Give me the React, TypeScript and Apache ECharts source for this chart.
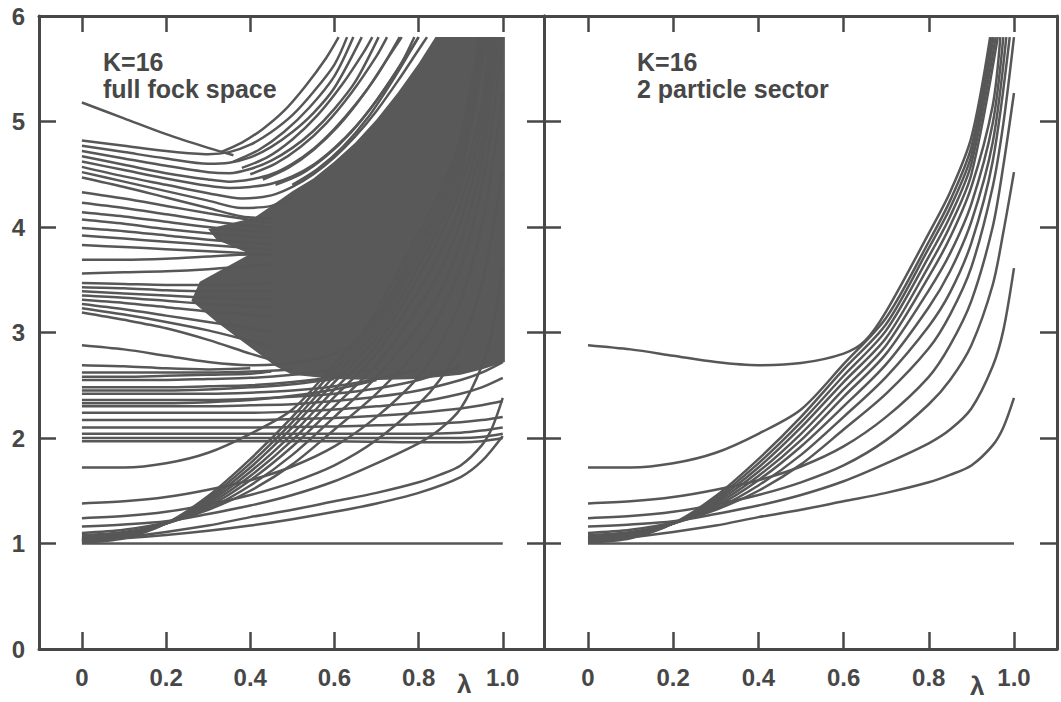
import React, { useEffect, useRef } from "react";
import * as echarts from "echarts";

type P = [number, number];

const xTickValues = [0, 0.2, 0.4, 0.6, 0.8, 1.0];
const LINE = "#575757";
const AXIS = "#474747";
const TEXT = "#474747";
const FONT = '"Liberation Sans", Arial, sans-serif';

// ---- 2 particle sector (right panel; also part of the full Fock space) ----
const s2Flat: P[] = [[0, 1], [1, 1]];
const s2R01: P[] = [[0,1.03],[0.1,1.06],[0.2,1.11],[0.3,1.17],[0.4,1.25],[0.5,1.32],[0.6,1.4],[0.7,1.48],[0.8,1.58],[0.85,1.65],[0.9,1.74],[0.95,1.93],[0.975,2.1],[1.0,2.38]];
const s2R02: P[] = [[0,1.16],[0.1,1.18],[0.2,1.21],[0.3,1.28],[0.4,1.36],[0.5,1.46],[0.6,1.59],[0.7,1.76],[0.8,1.95],[0.85,2.08],[0.9,2.28],[0.95,2.68],[0.975,3.02],[1.0,3.61]];
const s2R03: P[] = [[0,1.24],[0.1,1.26],[0.2,1.3],[0.3,1.37],[0.4,1.46],[0.5,1.58],[0.6,1.74],[0.7,1.98],[0.8,2.32],[0.85,2.55],[0.9,2.88],[0.95,3.45],[0.975,3.95],[1.0,4.52]];
const s2R04: P[] = [[0,1.38],[0.1,1.4],[0.2,1.44],[0.3,1.51],[0.4,1.6],[0.5,1.73],[0.6,1.92],[0.7,2.2],[0.8,2.58],[0.85,2.88],[0.9,3.3],[0.95,4.0],[0.975,4.58],[1.0,5.27]];
const s2R05: P[] = [[0,1.1],[0.1,1.13],[0.2,1.2],[0.3,1.32],[0.4,1.5],[0.5,1.75],[0.6,2.08],[0.7,2.42],[0.8,2.85],[0.85,3.17],[0.9,3.62],[0.95,4.38],[0.975,4.98],[1.0,5.8]];
const s2R06: P[] = [[0,1.08],[0.1,1.11],[0.2,1.19],[0.3,1.33],[0.4,1.55],[0.5,1.84],[0.6,2.2],[0.7,2.58],[0.8,3.06],[0.85,3.38],[0.9,3.85],[0.95,4.62],[0.99,5.8]];
const s2R07: P[] = [[0,1.06],[0.1,1.1],[0.2,1.19],[0.3,1.35],[0.4,1.6],[0.5,1.92],[0.6,2.3],[0.7,2.7],[0.8,3.24],[0.85,3.58],[0.9,4.05],[0.95,4.8],[0.982,5.8]];
const s2R08: P[] = [[0,1.05],[0.1,1.09],[0.2,1.19],[0.3,1.37],[0.4,1.64],[0.5,1.98],[0.6,2.39],[0.7,2.8],[0.8,3.4],[0.85,3.75],[0.9,4.22],[0.95,4.98],[0.975,5.8]];
const s2R09: P[] = [[0,1.04],[0.1,1.08],[0.2,1.19],[0.3,1.39],[0.4,1.68],[0.5,2.04],[0.6,2.46],[0.7,2.88],[0.8,3.53],[0.85,3.9],[0.9,4.38],[0.95,5.15],[0.968,5.8]];
const s2R10: P[] = [[0,1.03],[0.1,1.07],[0.2,1.19],[0.3,1.41],[0.4,1.72],[0.5,2.1],[0.6,2.53],[0.7,2.95],[0.8,3.63],[0.85,4.01],[0.9,4.5],[0.962,5.8]];
const s2R11: P[] = [[0,1.02],[0.1,1.06],[0.2,1.19],[0.3,1.43],[0.4,1.76],[0.5,2.15],[0.6,2.59],[0.7,3.02],[0.8,3.72],[0.85,4.1],[0.9,4.6],[0.957,5.8]];
const s2R12: P[] = [[0,1.01],[0.1,1.05],[0.2,1.19],[0.3,1.45],[0.4,1.8],[0.5,2.2],[0.6,2.65],[0.7,3.08],[0.8,3.8],[0.85,4.18],[0.9,4.68],[0.952,5.8]];
const s2R13: P[] = [[0,1.72],[0.1,1.72],[0.2,1.76],[0.3,1.86],[0.4,2.04],[0.5,2.27],[0.6,2.7],[0.7,3.14],[0.8,3.86],[0.85,4.25],[0.9,4.76],[0.948,5.8]];
const s2R14: P[] = [[0,2.88],[0.1,2.84],[0.2,2.78],[0.3,2.72],[0.4,2.69],[0.5,2.71],[0.6,2.8],[0.65,2.92],[0.7,3.2],[0.8,3.94],[0.85,4.33],[0.9,4.85],[0.944,5.8]];

const sector2Lines: P[][] = [s2Flat, s2R01, s2R02, s2R03, s2R04, s2R05, s2R06, s2R07, s2R08, s2R09, s2R10, s2R11, s2R12, s2R13, s2R14];

// ---- full Fock space (left panel) extra levels ----
const fockLow: P[] = [[0,1.03],[0.1,1.05],[0.2,1.08],[0.3,1.12],[0.4,1.17],[0.5,1.23],[0.6,1.3],[0.7,1.38],[0.8,1.48],[0.9,1.63],[0.95,1.78],[1.0,2.02]];
const fockDiag: P[] = [[0,5.18],[0.1,5.03],[0.2,4.88],[0.3,4.75],[0.36,4.68]];
const fockE2: P[] = [[0,2.69],[0.1,2.68],[0.2,2.66],[0.3,2.65],[0.4,2.66]];

const fockGroupA: P[][] = [
  [[0,4.82],[0.1,4.77],[0.2,4.72],[0.3,4.69],[0.35,4.71],[0.4,4.78],[0.45,4.9],[0.5,5.06],[0.55,5.28],[0.6,5.54],[0.63,5.8]],
  [[0,4.77],[0.1,4.71],[0.2,4.65],[0.3,4.6],[0.35,4.61],[0.4,4.66],[0.45,4.76],[0.5,4.9],[0.55,5.08],[0.6,5.32],[0.665,5.8]],
  [[0,4.72],[0.1,4.65],[0.2,4.58],[0.3,4.52],[0.35,4.51],[0.4,4.55],[0.45,4.63],[0.5,4.75],[0.55,4.91],[0.6,5.12],[0.65,5.38],[0.705,5.8]],
  [[0,4.67],[0.1,4.59],[0.2,4.51],[0.3,4.45],[0.35,4.43],[0.4,4.45],[0.45,4.5],[0.5,4.6],[0.55,4.74],[0.6,4.93],[0.65,5.16],[0.7,5.43],[0.755,5.8]],
  [[0,4.62],[0.1,4.54],[0.2,4.46],[0.3,4.39],[0.35,4.37],[0.4,4.38],[0.45,4.41],[0.5,4.48],[0.55,4.59],[0.6,4.75],[0.65,4.95],[0.7,5.2],[0.75,5.49],[0.8,5.8]],
  [[0,4.57],[0.1,4.48],[0.2,4.4],[0.3,4.32],[0.38,4.27],[0.45,4.3],[0.5,4.38],[0.55,4.5],[0.6,4.66],[0.65,4.86],[0.7,5.1],[0.75,5.38],[0.8,5.68],[0.82,5.8]],
  [[0,4.52],[0.1,4.43],[0.2,4.34],[0.3,4.25],[0.38,4.18],[0.45,4.2],[0.5,4.28]],
  [[0,4.47],[0.1,4.38],[0.2,4.28],[0.3,4.18],[0.38,4.1],[0.45,4.08]],
];

const fockFan: P[][] = [
  [[0.33,4.71],[0.38,4.8],[0.43,4.93],[0.48,5.1],[0.53,5.33],[0.58,5.6],[0.61,5.8]],
  [[0.36,4.62],[0.42,4.73],[0.48,4.9],[0.54,5.13],[0.6,5.43],[0.645,5.8]],
  [[0.38,4.56],[0.44,4.66],[0.5,4.83],[0.56,5.06],[0.62,5.36],[0.67,5.66],[0.69,5.8]],
  [[0.4,4.5],[0.46,4.6],[0.52,4.76],[0.58,4.98],[0.64,5.27],[0.7,5.62],[0.725,5.8]],
  [[0.43,4.45],[0.49,4.56],[0.55,4.73],[0.61,4.96],[0.67,5.26],[0.73,5.62],[0.76,5.8]],
  [[0.46,4.4],[0.52,4.5],[0.58,4.67],[0.64,4.9],[0.7,5.2],[0.76,5.56],[0.79,5.8]],
  [[0.5,4.4],[0.56,4.55],[0.62,4.76],[0.68,5.04],[0.74,5.4],[0.8,5.8]],
];

const fockGroupB: P[][] = [
  [[0,4.33],[0.1,4.27],[0.2,4.2],[0.3,4.13],[0.38,4.08],[0.45,4.04]],
  [[0,4.23],[0.1,4.18],[0.2,4.12],[0.3,4.06],[0.38,4.02],[0.45,3.99]],
  [[0,4.14],[0.1,4.1],[0.2,4.05],[0.3,4.0],[0.38,3.97],[0.45,3.95]],
  [[0,4.07],[0.1,4.03],[0.2,3.98],[0.3,3.94],[0.4,3.91],[0.45,3.9]],
  [[0,3.99],[0.1,3.96],[0.2,3.92],[0.3,3.88],[0.4,3.85],[0.45,3.84]],
  [[0,3.92],[0.1,3.89],[0.2,3.86],[0.3,3.83],[0.4,3.8],[0.45,3.79]],
  [[0,3.83],[0.1,3.81],[0.2,3.79],[0.3,3.77],[0.4,3.75],[0.45,3.74]],
];

const fockGroupC: P[][] = [
  [[0,3.69],[0.1,3.69],[0.2,3.7],[0.3,3.72],[0.4,3.74],[0.45,3.74]],
  [[0,3.56],[0.1,3.57],[0.2,3.58],[0.3,3.6],[0.4,3.63],[0.45,3.65]],
  [[0,3.47],[0.1,3.46],[0.2,3.45],[0.3,3.45],[0.4,3.46],[0.45,3.47]],
  [[0,3.43],[0.1,3.42],[0.2,3.4],[0.3,3.39],[0.4,3.39],[0.45,3.39]],
  [[0,3.39],[0.1,3.37],[0.2,3.35],[0.3,3.33],[0.4,3.32],[0.45,3.31]],
  [[0,3.35],[0.1,3.33],[0.2,3.3],[0.3,3.27],[0.4,3.25],[0.45,3.24]],
  [[0,3.31],[0.1,3.28],[0.2,3.24],[0.3,3.2],[0.4,3.17],[0.45,3.15]],
  [[0,3.27],[0.1,3.22],[0.2,3.16],[0.3,3.1],[0.4,3.04],[0.45,3.01]],
  [[0,3.23],[0.1,3.17],[0.2,3.1],[0.3,3.02],[0.4,2.92],[0.45,2.87]],
  [[0,3.19],[0.1,3.12],[0.2,3.04],[0.3,2.93],[0.4,2.8],[0.45,2.74]],
];

const fockGroupD: P[][] = [
  [[0,2.62],[0.1,2.62],[0.2,2.62],[0.3,2.62],[0.4,2.63],[0.5,2.65]],
  [[0,2.58],[0.1,2.58],[0.2,2.59],[0.3,2.6],[0.4,2.61],[0.45,2.63]],
  [[0,2.55],[0.1,2.55],[0.2,2.55],[0.3,2.56],[0.4,2.57],[0.5,2.6],[0.6,2.65]],
  [[0,2.48],[0.1,2.48],[0.2,2.48],[0.3,2.49],[0.4,2.5],[0.5,2.53],[0.6,2.58],[0.7,2.66]],
  [[0,2.45],[0.1,2.45],[0.2,2.45],[0.3,2.46],[0.4,2.48],[0.5,2.51],[0.6,2.56]],
  [[0,2.42],[0.1,2.42],[0.2,2.42],[0.3,2.42],[0.4,2.43],[0.5,2.45],[0.6,2.49],[0.7,2.56],[0.8,2.65]],
  [[0,2.36],[0.1,2.36],[0.2,2.36],[0.3,2.36],[0.4,2.37],[0.5,2.39],[0.6,2.42],[0.7,2.47],[0.8,2.55],[0.9,2.68]],
  [[0,2.33],[0.1,2.33],[0.2,2.33],[0.3,2.34],[0.4,2.36],[0.5,2.4],[0.6,2.46],[0.7,2.55]],
  [[0,2.3],[0.1,2.3],[0.2,2.3],[0.3,2.3],[0.4,2.31],[0.5,2.32],[0.6,2.35],[0.7,2.39],[0.8,2.45],[0.9,2.55],[0.95,2.62],[1.0,2.72]],
  [[0,2.24],[0.1,2.24],[0.2,2.24],[0.3,2.24],[0.4,2.24],[0.5,2.25],[0.6,2.27],[0.7,2.3],[0.8,2.34],[0.9,2.42],[0.95,2.48],[1.0,2.57]],
  [[0,2.17],[0.2,2.17],[0.4,2.17],[0.5,2.18],[0.6,2.19],[0.7,2.21],[0.8,2.24],[0.9,2.28],[0.95,2.31],[1.0,2.35]],
  [[0,2.1],[0.2,2.1],[0.4,2.1],[0.6,2.11],[0.7,2.12],[0.8,2.13],[0.9,2.15],[0.95,2.17],[1.0,2.2]],
  [[0,2.04],[0.2,2.04],[0.4,2.04],[0.6,2.04],[0.8,2.04],[0.9,2.05],[0.95,2.07],[1.0,2.1]],
  [[0,2.0],[0.2,2.0],[0.4,2.0],[0.6,2.0],[0.8,2.0],[0.9,2.0],[0.95,2.01],[1.0,2.04]],
  [[0,1.97],[0.2,1.97],[0.4,1.97],[0.6,1.97],[0.8,1.96],[0.9,1.96],[0.95,1.97],[1.0,2.0]],
];

// outline of the region where the levels are too dense to separate
const fockMass: P[] = [
  [0.41,4.09],[0.45,4.2],[0.5,4.34],[0.55,4.46],[0.6,4.62],[0.65,4.8],[0.7,5.02],[0.75,5.27],[0.8,5.55],[0.84,5.8],
  [1.005,5.8],[1.005,2.72],[0.95,2.65],[0.9,2.6],[0.8,2.56],[0.7,2.55],[0.6,2.56],[0.5,2.6],[0.46,2.68],
  [0.4,2.86],[0.32,3.1],[0.26,3.3],[0.28,3.48],[0.4,3.745],[0.32,3.88],[0.3,3.98],
];

const leftLines: P[][] = [
  ...sector2Lines, fockLow, fockDiag, fockE2,
  ...fockGroupA, ...fockFan, ...fockGroupB, ...fockGroupC, ...fockGroupD,
];

function fmtX(v: number) {
  if (v === 0) return "0";
  if (v === 1) return "1.0";
  return v.toFixed(1);
}

function xAxes(grid: number, min: number, max: number) {
  const tick = { show: true, inside: true, length: 17, customValues: xTickValues, lineStyle: { color: AXIS, width: 2.5 } };
  return [
    {
      gridIndex: grid, type: "value", min, max, position: "bottom",
      axisLine: { show: true, onZero: false, lineStyle: { color: AXIS, width: 3 } },
      axisTick: tick,
      axisLabel: { show: true, customValues: xTickValues, formatter: fmtX, margin: 16, fontSize: 24, fontWeight: "bold", fontFamily: FONT, color: TEXT },
      splitLine: { show: false },
    },
    {
      gridIndex: grid, type: "value", min, max, position: "top",
      axisLine: { show: true, onZero: false, lineStyle: { color: AXIS, width: 3 } },
      axisTick: { ...tick, length: 16 },
      axisLabel: { show: false },
      splitLine: { show: false },
    },
  ];
}

function yAxes(grid: number, labels: boolean) {
  const tick = { show: true, inside: true, length: 17, lineStyle: { color: AXIS, width: 2.5 } };
  return [
    {
      gridIndex: grid, type: "value", min: 0, max: 6, interval: 1, position: "left",
      axisLine: { show: true, onZero: false, lineStyle: { color: AXIS, width: 3 } },
      axisTick: tick,
      axisLabel: { show: labels, margin: 14, fontSize: 24, fontWeight: "bold", fontFamily: FONT, color: TEXT },
      splitLine: { show: false },
    },
    {
      gridIndex: grid, type: "value", min: 0, max: 6, interval: 1, position: "right",
      axisLine: { show: true, onZero: false, lineStyle: { color: AXIS, width: 3 } },
      axisTick: tick,
      axisLabel: { show: false },
      splitLine: { show: false },
    },
  ];
}

function lineSeries(data: P[], axis: number) {
  return {
    type: "line", xAxisIndex: axis, yAxisIndex: axis, data,
    showSymbol: false, symbol: "none", smooth: 0.3,
    lineStyle: { color: LINE, width: 2.5 }, silent: true, z: 3,
  };
}

function label(x: number, y: number, text: string, size = 25) {
  return {
    type: "text", x, y, silent: true,
    style: { text, fill: TEXT, fontSize: size, fontWeight: "bold", fontFamily: FONT, align: "left", verticalAlign: "middle", textVerticalAlign: "middle" },
  };
}

export default function App() {
  const ref = useRef<HTMLDivElement>(null);
  useEffect(() => {
    document.body.style.margin = "0";
    if (!ref.current) return;
    const chart = echarts.init(ref.current, undefined, { renderer: "svg" });
    const option: any = {
      animation: false,
      backgroundColor: "#ffffff",
      grid: [
        { left: 39, top: 16, width: 505, height: 633 },
        { left: 544, top: 16, width: 513, height: 633 },
      ],
      xAxis: [...xAxes(0, -0.102, 1.098), ...xAxes(1, -0.1033, 1.101)],
      yAxis: [...yAxes(0, true), ...yAxes(1, false)],
      series: [
        {
          type: "custom", xAxisIndex: 0, yAxisIndex: 0, silent: true, z: 2,
          data: [[0.7, 4]],
          renderItem: (_p: any, api: any) => ({
            type: "polygon",
            shape: { points: fockMass.map((pt) => api.coord(pt)) },
            style: { fill: "#595959" },
          }),
        },
        ...leftLines.map((d) => lineSeries(d, 0)),
        ...sector2Lines.map((d) => lineSeries(d, 2)),
      ],
      graphic: [
        label(103, 62, "K=16"),
        label(103, 89, "full fock space"),
        label(637, 62, "K=16"),
        label(637, 89, "2 particle sector"),
        label(457, 684, "λ", 26),
        label(970, 686, "λ", 26),
      ],
    };
    chart.setOption(option);
    return () => chart.dispose();
  }, []);
  return <div ref={ref} style={{ width: 1061, height: 702 }} />;
}
